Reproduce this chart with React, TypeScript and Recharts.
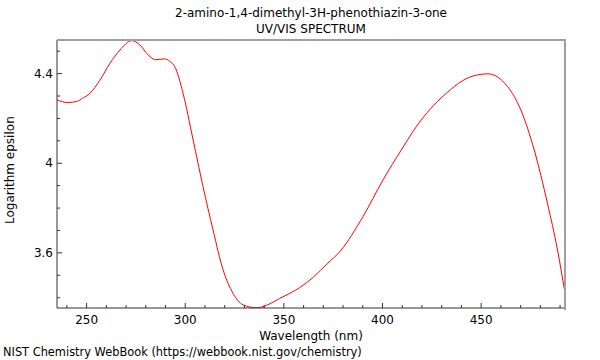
import React from "react";
import { LineChart, Line, XAxis, YAxis } from "recharts";

const wavelengths = [
  235, 240.5, 245, 248, 251.7, 256.7, 261.8, 266.9, 272.8, 277, 281.2, 285,
  289.6, 292.2, 294.7, 298.9, 304, 309, 314.1, 319.2, 324.2, 329.3, 336,
  349.5, 358, 365, 372, 378.5, 390.1, 400.2, 409.5, 417.1, 423.8, 432.3,
  440.7, 444.1, 453.3, 463.4, 470.1, 476.9, 483.6, 488.7, 492.5,
];
const logEpsilon = [
  4.283, 4.271, 4.276, 4.29, 4.312, 4.37, 4.446, 4.505, 4.547, 4.528, 4.483,
  4.462, 4.466, 4.454, 4.431, 4.312, 4.104, 3.896, 3.702, 3.524, 3.42, 3.368,
  3.355, 3.404, 3.445, 3.492, 3.552, 3.607, 3.762, 3.925, 4.059, 4.163,
  4.238, 4.312, 4.369, 4.384, 4.399, 4.342, 4.238, 4.059, 3.821, 3.613, 3.42,
];
const xTicks = [
  240, 250, 260, 270, 280, 290, 300, 310, 320, 330, 340, 350, 360, 370, 380,
  390, 400, 410, 420, 430, 440, 450, 460, 470, 480, 490,
];
const xLabelled = [250, 300, 350, 400, 450];
const yTicks = [3.4, 3.5, 3.6, 3.7, 3.8, 3.9, 4, 4.1, 4.2, 4.3, 4.4, 4.5];
const yLabelled = [3.6, 4, 4.4];

const title = "2-amino-1,4-dimethyl-3H-phenothiazin-3-one";
const subtitle = "UV/VIS SPECTRUM";
const footer = "NIST Chemistry WebBook (https://webbook.nist.gov/chemistry)";

const data = wavelengths.map((w, i) => ({ w, e: logEpsilon[i] }));

const FONT = "'DejaVu Sans', sans-serif";
const LEFT = 57;
const BOTTOM = 308;

const XTick = (props: any) => {
  const { x, payload } = props;
  const major = xLabelled.includes(payload.value);
  return (
    <g>
      <line x1={x} x2={x} y1={BOTTOM} y2={BOTTOM - (major ? 5 : 3)} stroke="#333" />
      {major && (
        <text x={x} y={BOTTOM + 16} textAnchor="middle" fontSize={12} fill="#000" fontFamily={FONT}>
          {payload.value}
        </text>
      )}
    </g>
  );
};

const YTick = (props: any) => {
  const { y, payload } = props;
  const major = yLabelled.includes(payload.value);
  return (
    <g>
      <line x1={LEFT} x2={LEFT + (major ? 5 : 3)} y1={y} y2={y} stroke="#333" />
      {major && (
        <text x={LEFT - 4} y={y + 4} textAnchor="end" fontSize={12} fill="#000" fontFamily={FONT}>
          {payload.value}
        </text>
      )}
    </g>
  );
};

export default function App() {
  return (
    <div style={{ position: "absolute", left: 0, top: 0, width: 600, height: 360, fontFamily: FONT, background: "#fff" }}>
      <div style={{ position: "absolute", left: 57, width: 508, top: 5, textAlign: "center", fontSize: 12, lineHeight: "16px" }}>
        {title}
        <br />
        {subtitle}
      </div>
      <LineChart
        width={600}
        height={360}
        data={data}
        margin={{ top: 40, right: 35, bottom: 22, left: 17 }}
      >
        <XAxis
          dataKey="w"
          type="number"
          domain={[235, 492.5]}
          allowDataOverflow
          ticks={xTicks}
          interval={0}
          height={30}
          tickLine={false}
          tick={<XTick />}
          axisLine={{ stroke: "#333" }}
          label={{ value: "Wavelength (nm)", position: "insideBottom", offset: -2, fontSize: 12, fill: "#000", fontFamily: FONT }}
        />
        <YAxis
          type="number"
          domain={[3.354, 4.55]}
          allowDataOverflow
          ticks={yTicks}
          interval={0}
          width={40}
          tickLine={false}
          tick={<YTick />}
          axisLine={{ stroke: "#333" }}
          label={{ value: "Logarithm epsilon", angle: -90, position: "insideLeft", offset: -7, dy: 50, fontSize: 12, fill: "#000", fontFamily: FONT }}
        />
        <Line
          dataKey="e"
          type="monotone"
          stroke="#ff0000"
          strokeWidth={1}
          dot={false}
          isAnimationActive={false}
        />
      </LineChart>
      <div
        style={{
          position: "absolute",
          left: 57,
          top: 39,
          width: 507,
          height: 269,
          borderTop: "2px solid #a0a0a0",
          borderRight: "2px solid #a0a0a0",
          pointerEvents: "none",
        }}
      />
      <div style={{ position: "absolute", left: 3, top: 345, fontSize: 11.4, lineHeight: "14px", whiteSpace: "nowrap" }}>
        {footer}
      </div>
    </div>
  );
}
